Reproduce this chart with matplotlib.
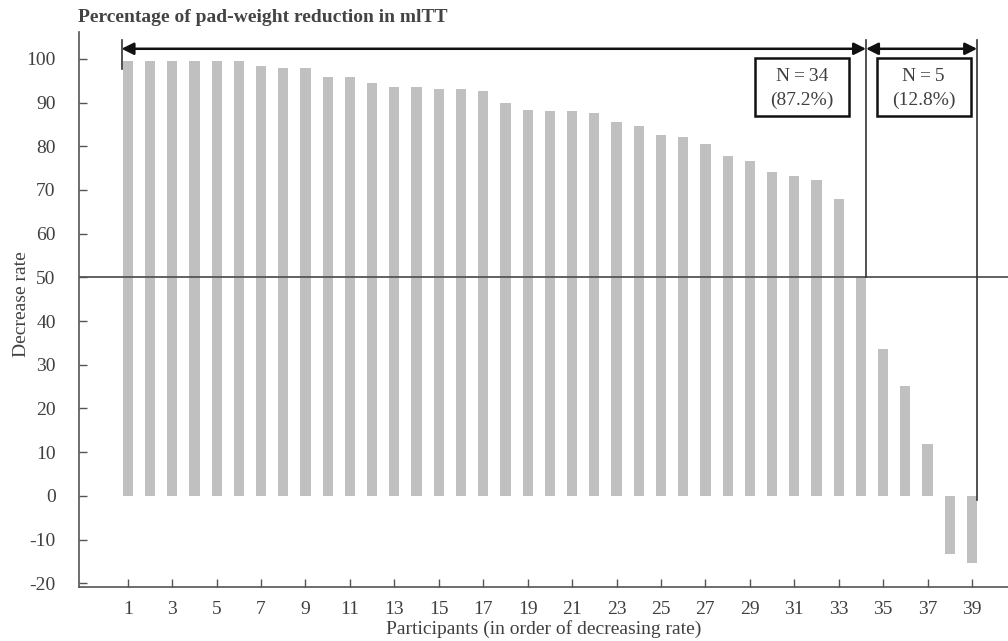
import matplotlib
matplotlib.use("Agg")
import matplotlib.pyplot as plt
from matplotlib.patches import Rectangle

participants = list(range(1, 40))
decrease_rate = [99.5, 99.5, 99.5, 99.5, 99.5, 99.5, 98.3, 98.0, 98.0, 95.9,
                 95.9, 94.5, 93.5, 93.5, 93.0, 93.0, 92.7, 89.9, 88.3, 88.0,
                 88.0, 87.7, 85.5, 84.7, 82.6, 82.0, 80.4, 77.7, 76.6, 74.2,
                 73.1, 72.3, 68.0, 50.0, 33.7, 25.1, 11.9, -13.3, -15.4]
xtick_labels = [str(i) for i in range(1, 40, 2)]
yticks = list(range(-20, 101, 10))
group_labels = ["N\u2009=\u200934\n(87.2%)", "N\u2009=\u20095\n(12.8%)"]

plt.rcParams['font.family'] = ['Liberation Serif', 'DejaVu Serif']
text_col = '#404040'
spine_col = '#555555'

fig = plt.figure(figsize=(10.08, 6.41), dpi=100)
ax = fig.add_axes([0.0787, 0.0847, 0.9213, 0.8658])

ax.bar(participants, decrease_rate, width=0.46, color='#c0c0c0', zorder=2)

ax.set_xlim(-1.18, 40.62)
ax.set_ylim(-20.8, 106.2)
ax.set_xticks([int(t) for t in xtick_labels])
ax.set_xticklabels(xtick_labels)
ax.set_yticks(yticks)
ax.set_yticklabels([str(v) for v in yticks])
ax.tick_params(direction='in', length=6, width=1, colors=spine_col,
               labelcolor=text_col, labelsize=14)
ax.tick_params(axis='x', pad=10)
ax.tick_params(axis='y', pad=17)
for s in ['top', 'right']:
    ax.spines[s].set_visible(False)
for s in ['left', 'bottom']:
    ax.spines[s].set_color(spine_col)
    ax.spines[s].set_linewidth(1.2)

ax.axhline(50, color='#555555', lw=1.3, zorder=3)

ax.set_xlabel("Participants (in order of decreasing rate)", fontsize=14,
              color=text_col, labelpad=2)
ax.set_ylabel("Decrease rate", fontsize=14, color=text_col)
ax.yaxis.set_label_coords(-0.053, 0.51)

# separators and arrows
x_left = 0.72
x_mid = 34.23
x_right = 39.23
y_arr = 102.3
ax.plot([x_left, x_left], [97.6, 104.2], color='#333333', lw=1.2, zorder=4)
ax.plot([x_mid, x_mid], [50, 104.4], color='#333333', lw=1.2, zorder=4)
ax.plot([x_right, x_right], [-1.0, 104.4], color='#333333', lw=1.2, zorder=4)
arrow_kw = dict(arrowstyle='<|-|>', color='#111111', lw=1.8,
                mutation_scale=18, shrinkA=0, shrinkB=0)
ax.annotate('', xy=(x_mid, y_arr), xytext=(x_left, y_arr), arrowprops=arrow_kw, zorder=5)
ax.annotate('', xy=(x_right, y_arr), xytext=(x_mid, y_arr), arrowprops=arrow_kw, zorder=5)

boxes = [(29.24, 33.46), (34.71, 38.94)]
for (x0, x1), lab in zip(boxes, group_labels):
    ax.add_patch(Rectangle((x0, 86.9), x1 - x0, 13.3, fill=True, facecolor='white',
                           edgecolor='#111111', lw=1.8, zorder=6))
    ax.text((x0 + x1) / 2, 93.3, lab, ha='center', va='center', fontsize=14,
            color=text_col, linespacing=1.5, zorder=7)

fig.text(0.0774, 0.9727, "Percentage of pad-weight reduction in mlTT",
         fontsize=14, fontweight='bold', color='#444444', ha='left', va='center')

fig.savefig("out.png", dpi=100)
